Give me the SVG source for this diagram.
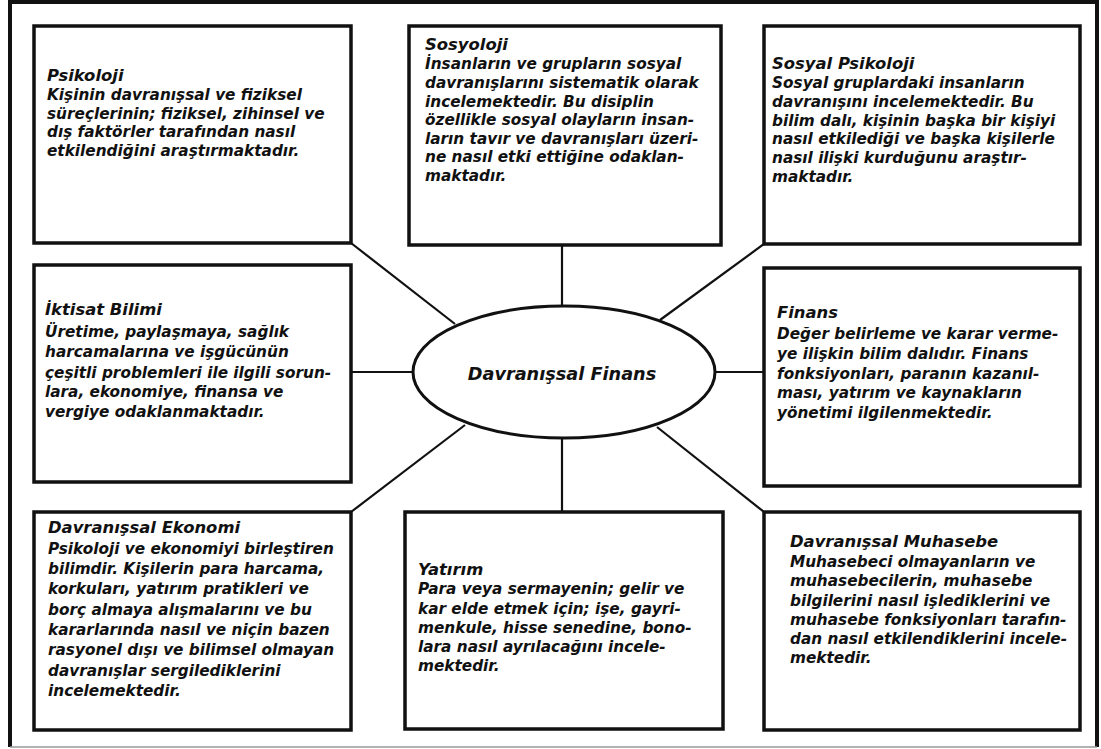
<svg xmlns="http://www.w3.org/2000/svg" width="1101" height="749" viewBox="0 0 1101 749">
<style>
.box{fill:#fff;stroke:#111;stroke-width:3.5}
.con{stroke:#111;stroke-width:2.2;fill:none}
.t{font-family:"DejaVu Sans",sans-serif;font-weight:bold;font-style:oblique;font-size:15.3px;fill:#111}
.h{font-size:16.4px}
.c{font-family:"DejaVu Sans",sans-serif;font-weight:bold;font-style:oblique;font-size:17.7px;fill:#111}
</style>
<rect width="1101" height="749" fill="#fff"/>
<g id="frame">
<path d="M10,747 V2 H1097 V747" fill="none" stroke="#111" stroke-width="4"/>
<line x1="10" y1="747" x2="1097" y2="747" stroke="#999" stroke-width="1.5"/>
</g>
<g id="connectors">
<line class="con" x1="562" y1="245" x2="562" y2="306"/>
<line class="con" x1="562" y1="438" x2="562" y2="512"/>
<line class="con" x1="351" y1="372" x2="413" y2="372"/>
<line class="con" x1="715" y1="372" x2="764" y2="372"/>
<line class="con" x1="351" y1="243" x2="455" y2="324"/>
<line class="con" x1="764" y1="244" x2="660" y2="320"/>
<line class="con" x1="465" y1="425" x2="351" y2="512"/>
<line class="con" x1="657" y1="427" x2="764" y2="512"/>
</g>
<g id="center">
<ellipse cx="564" cy="372" rx="151" ry="66" fill="#fff" stroke="#111" stroke-width="3"/>
<text class="c" x="562" y="380" text-anchor="middle">Davranışsal Finans</text>
</g>
<g id="psikoloji">
<rect class="box" x="34" y="26" width="317" height="217"/>
<text class="t"><tspan class="h" x="47" y="81">Psikoloji</tspan><tspan x="47" y="99.8">Kişinin davranışsal ve fiziksel</tspan><tspan x="47" y="118.6">süreçlerinin; fiziksel, zihinsel ve</tspan><tspan x="47" y="137.4">dış faktörler tarafından nasıl</tspan><tspan x="47" y="156.2">etkilendiğini araştırmaktadır.</tspan></text>
</g>
<g id="sosyoloji">
<rect class="box" x="409" y="26" width="312" height="219"/>
<text class="t"><tspan class="h" x="425" y="50">Sosyoloji</tspan><tspan x="425" y="69">İnsanların ve grupların sosyal</tspan><tspan x="425" y="88">davranışlarını sistematik olarak</tspan><tspan x="425" y="106.5">incelemektedir. Bu disiplin</tspan><tspan x="425" y="125">özellikle sosyal olayların insan-</tspan><tspan x="425" y="143.5">ların tavır ve davranışları üzeri-</tspan><tspan x="425" y="162">ne nasıl etki ettiğine odaklan-</tspan><tspan x="425" y="181">maktadır.</tspan></text>
</g>
<g id="sosyal-psikoloji">
<rect class="box" x="764" y="26" width="316" height="218"/>
<text class="t"><tspan class="h" x="772" y="69">Sosyal Psikoloji</tspan><tspan x="772" y="88">Sosyal gruplardaki insanların</tspan><tspan x="772" y="107">davranışını incelemektedir. Bu</tspan><tspan x="772" y="125.5">bilim dalı, kişinin başka bir kişiyi</tspan><tspan x="772" y="144">nasıl etkilediği ve başka kişilerle</tspan><tspan x="772" y="163">nasıl ilişki kurduğunu araştır-</tspan><tspan x="772" y="182">maktadır.</tspan></text>
</g>
<g id="iktisat">
<rect class="box" x="34" y="265" width="317" height="217"/>
<text class="t"><tspan class="h" x="45" y="315">İktisat Bilimi</tspan><tspan x="45" y="336.5">Üretime, paylaşmaya, sağlık</tspan><tspan x="45" y="357">harcamalarına ve işgücünün</tspan><tspan x="45" y="377.5">çeşitli problemleri ile ilgili sorun-</tspan><tspan x="45" y="397">lara, ekonomiye, finansa ve</tspan><tspan x="45" y="417">vergiye odaklanmaktadır.</tspan></text>
</g>
<g id="finans">
<rect class="box" x="764" y="268" width="316" height="218"/>
<text class="t"><tspan class="h" x="777" y="318">Finans</tspan><tspan x="777" y="339">Değer belirleme ve karar verme-</tspan><tspan x="777" y="359">ye ilişkin bilim dalıdır. Finans</tspan><tspan x="777" y="378.5">fonksiyonları, paranın kazanıl-</tspan><tspan x="777" y="398">ması, yatırım ve kaynakların</tspan><tspan x="777" y="417.5">yönetimi ilgilenmektedir.</tspan></text>
</g>
<g id="davranissal-ekonomi">
<rect class="box" x="34" y="512" width="317" height="218"/>
<text class="t"><tspan class="h" x="48" y="533">Davranışsal Ekonomi</tspan><tspan x="48" y="554">Psikoloji ve ekonomiyi birleştiren</tspan><tspan x="48" y="574">bilimdir. Kişilerin para harcama,</tspan><tspan x="48" y="594">korkuları, yatırım pratikleri ve</tspan><tspan x="48" y="615">borç almaya alışmalarını ve bu</tspan><tspan x="48" y="635">kararlarında nasıl ve niçin bazen</tspan><tspan x="48" y="655">rasyonel dışı ve bilimsel olmayan</tspan><tspan x="48" y="676">davranışlar sergilediklerini</tspan><tspan x="48" y="696">incelemektedir.</tspan></text>
</g>
<g id="yatirim">
<rect class="box" x="405" y="512" width="318" height="217"/>
<text class="t"><tspan class="h" x="418" y="575">Yatırım</tspan><tspan x="418" y="594">Para veya sermayenin; gelir ve</tspan><tspan x="418" y="613.5">kar elde etmek için; işe, gayri-</tspan><tspan x="418" y="633">menkule, hisse senedine, bono-</tspan><tspan x="418" y="652">lara nasıl ayrılacağını incele-</tspan><tspan x="418" y="671">mektedir.</tspan></text>
</g>
<g id="davranissal-muhasebe">
<rect class="box" x="764" y="512" width="316" height="218"/>
<text class="t"><tspan class="h" x="790" y="547">Davranışsal Muhasebe</tspan><tspan x="790" y="566.5">Muhasebeci olmayanların ve</tspan><tspan x="790" y="586">muhasebecilerin, muhasebe</tspan><tspan x="790" y="606">bilgilerini nasıl işlediklerini ve</tspan><tspan x="790" y="625">muhasebe fonksiyonları tarafın-</tspan><tspan x="790" y="644">dan nasıl etkilendiklerini incele-</tspan><tspan x="790" y="663">mektedir.</tspan></text>
</g>
</svg>
